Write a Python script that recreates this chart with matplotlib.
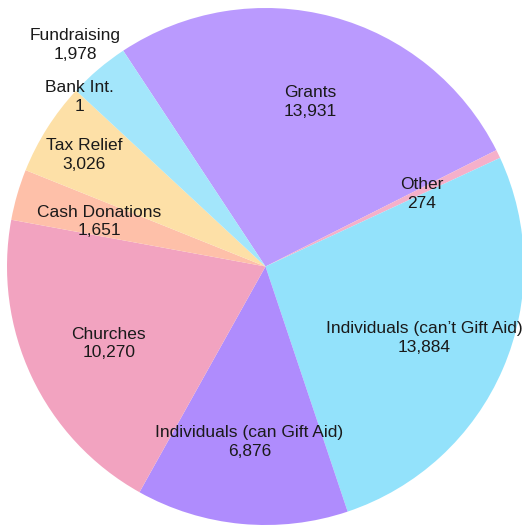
import matplotlib.pyplot as plt
import numpy as np

# Income sources (clockwise from Grants)
categories = ['Grants', 'Other', "Individuals (can\u2019t Gift Aid)", 'Individuals (can Gift Aid)',
              'Churches', 'Cash Donations', 'Tax Relief', 'Bank Int.', 'Fundraising']
values = [13931, 274, 13884, 6876, 10270, 1651, 3026, 1, 1978]

colors = ['#BA9AFE', '#F5B0CA', '#93E2FB', '#AF8CFD', '#F2A3C0',
          '#FEC0A9', '#FDE0A7', '#C8F0B0', '#A3E6FB']
label_dist = [0.67, 0.67, 0.67, 0.67, 0.67, 0.67, 0.83, 0.98, 1.14]

plt.rcParams['font.family'] = ['Liberation Sans', 'DejaVu Sans']

fig = plt.figure(figsize=(5.22, 5.27), dpi=100)
ax = fig.add_axes([0, 0, 1, 1])
wedges, _ = ax.pie(values, colors=colors, startangle=123.4, counterclock=False,
                   radius=1, wedgeprops=dict(linewidth=0))

for w, name, val, d in zip(wedges, categories, values, label_dist):
    ang = np.deg2rad((w.theta1 + w.theta2) / 2)
    ax.text(d * np.cos(ang), d * np.sin(ang) - 0.012, f'{name}\n{val:,}',
            ha='center', va='center', fontsize=12.5, color='#1a1a1a', linespacing=1.3)

ax.set_xlim(-265.5 / 258.5, (522 - 265.5) / 258.5)
ax.set_ylim(-(527 - 266.5) / 258.5, 266.5 / 258.5)
ax.axis('off')
fig.savefig('out.png', dpi=100)
